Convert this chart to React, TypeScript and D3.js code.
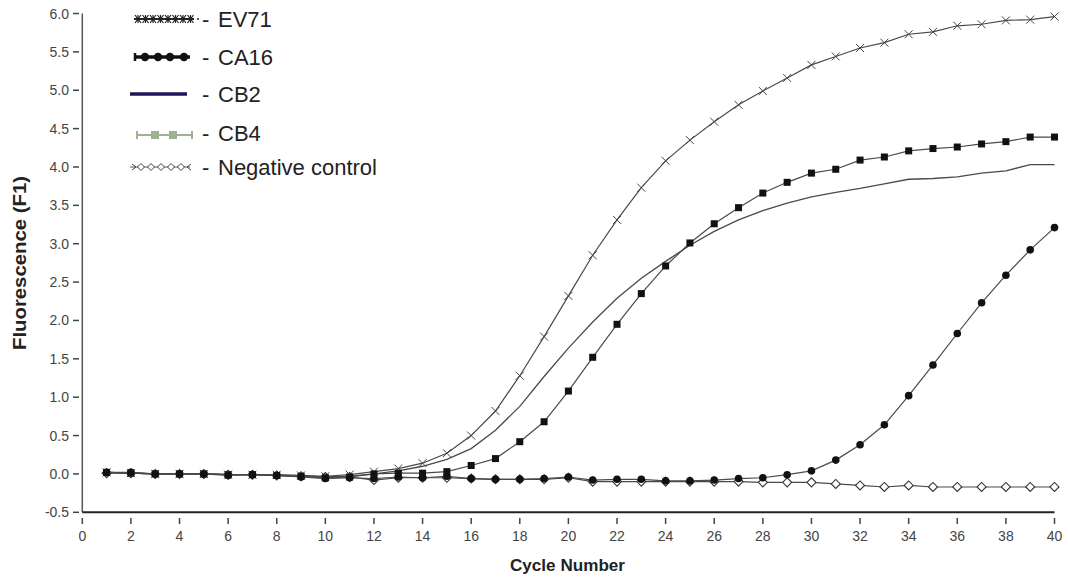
import React from "react";
import * as d3 from "d3";

const cycles = d3.range(1, 41);
const ev71 = [0.02,0.01,0.0,0.0,0.0,-0.01,-0.01,-0.01,-0.02,-0.03,-0.01,0.03,0.07,0.14,0.27,0.50,0.82,1.28,1.79,2.32,2.85,3.31,3.73,4.08,4.35,4.59,4.81,4.99,5.16,5.33,5.44,5.55,5.62,5.73,5.76,5.84,5.86,5.91,5.92,5.96];
const ca16 = [0.02,0.01,0.0,0.0,0.0,-0.01,-0.01,-0.02,-0.03,-0.05,-0.04,0.0,0.01,0.01,0.03,0.11,0.20,0.42,0.68,1.08,1.52,1.95,2.35,2.71,3.01,3.26,3.47,3.66,3.80,3.92,3.97,4.09,4.13,4.21,4.24,4.26,4.30,4.33,4.39,4.39];
const cb2 = [0.02,0.01,0.0,0.0,0.0,-0.01,-0.01,-0.02,-0.03,-0.04,-0.03,0.0,0.04,0.10,0.19,0.33,0.57,0.88,1.27,1.64,1.98,2.29,2.55,2.77,2.98,3.16,3.31,3.43,3.53,3.61,3.67,3.72,3.78,3.84,3.85,3.87,3.92,3.95,4.03,4.03];
const cb4 = [0.02,0.02,0.0,0.0,0.0,-0.02,-0.01,-0.02,-0.04,-0.06,-0.05,-0.06,-0.04,-0.05,-0.03,-0.06,-0.07,-0.07,-0.06,-0.04,-0.08,-0.07,-0.07,-0.09,-0.09,-0.08,-0.06,-0.05,-0.01,0.04,0.18,0.38,0.64,1.02,1.42,1.83,2.23,2.59,2.92,3.21];
const negative = [0.01,0.01,0.0,0.0,0.0,-0.01,-0.01,-0.02,-0.03,-0.04,-0.04,-0.08,-0.05,-0.05,-0.05,-0.06,-0.07,-0.07,-0.07,-0.05,-0.10,-0.10,-0.10,-0.10,-0.10,-0.10,-0.10,-0.11,-0.11,-0.11,-0.13,-0.15,-0.17,-0.15,-0.17,-0.17,-0.17,-0.17,-0.17,-0.17];

const xTicks = d3.range(0, 41, 2);
const yTicks = d3.range(-0.5, 6.01, 0.5);
const legendLabels = ["EV71", "CA16", "CB2", "CB4", "Negative control"];

const W = 1068, H = 579;
const x = d3.scaleLinear().domain([0, 40]).range([82.3, 1054.5]);
const y = d3.scaleLinear().domain([-0.5, 6]).range([512.3, 13.5]);
const FONT = "'Liberation Sans', Arial, Helvetica, sans-serif";

function pts(vals: number[]) {
  return cycles.map((c, i) => [x(c), y(vals[i])] as [number, number]);
}
const line = d3.line<[number, number]>();

export default function App() {
  const lineColor = "#4a4a4a";
  const legendY = [19, 57, 94, 133, 167];
  return (
    <svg width={W} height={H} style={{ position: "absolute", left: 0, top: 0, background: "#fff" }} fontFamily={FONT}>
      <rect width={W} height={H} fill="#fff" />
      {/* axes */}
      <line x1={x(0)} x2={x(0)} y1={y(6)} y2={y(-0.5)} stroke="#555" strokeWidth={1.5} />
      <line x1={x(0)} x2={x(40)} y1={y(-0.5)} y2={y(-0.5)} stroke="#222" strokeWidth={2} />
      {yTicks.map((t) => (
        <g key={"y" + t}>
          <line x1={73} x2={79} y1={y(t)} y2={y(t)} stroke="#444" strokeWidth={1.5} />
          <text x={69} y={y(t)} dy="0.36em" textAnchor="end" fontSize={14} fill="#444">{t.toFixed(1)}</text>
        </g>
      ))}
      {xTicks.map((t) => (
        <g key={"x" + t}>
          <line x1={x(t)} x2={x(t)} y1={518} y2={524} stroke="#444" strokeWidth={1.5} />
          <text x={x(t)} y={541} textAnchor="middle" fontSize={14} fill="#444">{t}</text>
        </g>
      ))}
      <text x={510} y={571} fontSize={17} fontWeight="bold" fill="#222" textLength={115} lengthAdjust="spacingAndGlyphs">Cycle Number</text>
      <text transform={`translate(26,350) rotate(-90)`} fontSize={19} fontWeight="bold" fill="#222" textLength={174} lengthAdjust="spacingAndGlyphs">Fluorescence (F1)</text>

      {/* series */}
      <path d={line(pts(negative)) || ""} fill="none" stroke={lineColor} strokeWidth={1.2} />
      {pts(negative).map(([px, py], i) => (
        <path key={"n" + i} d={`M${px - 4.5},${py}L${px},${py - 4.5}L${px + 4.5},${py}L${px},${py + 4.5}Z`} fill="#fff" stroke="#333" strokeWidth={1.1} />
      ))}
      <path d={line(pts(cb2)) || ""} fill="none" stroke={lineColor} strokeWidth={1.3} />
      <path d={line(pts(ev71)) || ""} fill="none" stroke={lineColor} strokeWidth={1.2} />
      {pts(ev71).map(([px, py], i) => (
        <path key={"e" + i} d={`M${px - 4},${py - 4}L${px + 4},${py + 4}M${px - 4},${py + 4}L${px + 4},${py - 4}`} stroke="#444" strokeWidth={1} />
      ))}
      <path d={line(pts(cb4)) || ""} fill="none" stroke={lineColor} strokeWidth={1.2} />
      {pts(cb4).map(([px, py], i) => (
        <circle key={"b" + i} cx={px} cy={py} r={3.8} fill="#111" />
      ))}
      <path d={line(pts(ca16)) || ""} fill="none" stroke={lineColor} strokeWidth={1.2} />
      {pts(ca16).map(([px, py], i) => (
        <rect key={"c" + i} x={px - 3.5} y={py - 3.5} width={7} height={7} fill="#111" />
      ))}

      {/* legend */}
      {legendLabels.map((lab, i) => (
        <g key={lab}>
          <text x={202} y={legendY[i]} dy="0.36em" fontSize={22} fill="#222">-</text>
          <text x={218} y={legendY[i]} dy="0.36em" fontSize={22} fill="#222">{lab}</text>
        </g>
      ))}
      {/* EV71 symbol */}
      <line x1={134} x2={194} y1={legendY[0]} y2={legendY[0]} stroke="#222" strokeWidth={2} />
      {d3.range(0, 8).map((k) => {
        const px = 138 + k * 7.5, py = legendY[0];
        return <path key={"le" + k} d={`M${px - 3},${py - 4}L${px + 3},${py + 4}M${px - 3},${py + 4}L${px + 3},${py - 4}M${px},${py - 4}L${px},${py + 4}`} stroke="#222" strokeWidth={1.2} />;
      })}
      <circle cx={198} cy={legendY[0]} r={1} fill="#222" />
      {/* CA16 symbol */}
      <line x1={134} x2={190} y1={legendY[1]} y2={legendY[1]} stroke="#111" strokeWidth={3.5} />
      <line x1={135} x2={135} y1={legendY[1] - 4} y2={legendY[1] + 4} stroke="#111" strokeWidth={2.5} />
      {[145, 158, 170, 184].map((px, k) => (
        <circle key={"lc" + k} cx={px} cy={legendY[1]} r={4.2} fill="#111" />
      ))}
      {/* CB2 symbol */}
      <line x1={130} x2={187} y1={legendY[2]} y2={legendY[2]} stroke="#1c1858" strokeWidth={3.5} />
      {/* CB4 symbol */}
      <line x1={137} x2={192} y1={legendY[3] + 2} y2={legendY[3] + 2} stroke="#9fb190" strokeWidth={2.2} />
      <line x1={137} x2={137} y1={legendY[3] - 2} y2={legendY[3] + 6} stroke="#9fb190" strokeWidth={2} />
      <line x1={192} x2={192} y1={legendY[3] - 2} y2={legendY[3] + 6} stroke="#9fb190" strokeWidth={2} />
      {[155, 173].map((px, k) => (
        <rect key={"lb" + k} x={px - 4} y={legendY[3] - 2} width={8} height={8} fill="#9fb190" />
      ))}
      {/* Negative control symbol */}
      <line x1={130} x2={190} y1={legendY[4]} y2={legendY[4]} stroke="#555" strokeWidth={1} />
      {[141, 151, 161, 171, 181].map((px, k) => (
        <path key={"ln" + k} d={`M${px - 3.5},${legendY[4]}L${px},${legendY[4] - 3.5}L${px + 3.5},${legendY[4]}L${px},${legendY[4] + 3.5}Z`} fill="#fff" stroke="#444" strokeWidth={1} />
      ))}
      <path d={`M132,${legendY[4] - 3}L136,${legendY[4]}L132,${legendY[4] + 3}`} fill="none" stroke="#444" strokeWidth={1} />
      <path d={`M191,${legendY[4] - 3}L187,${legendY[4]}L191,${legendY[4] + 3}`} fill="none" stroke="#444" strokeWidth={1} />
    </svg>
  );
}
